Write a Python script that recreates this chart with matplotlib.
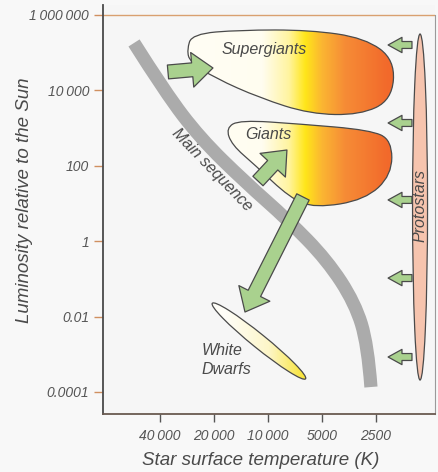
import matplotlib
matplotlib.use("Agg")
import matplotlib.pyplot as plt
import matplotlib.transforms as mtransforms
from matplotlib.path import Path
from matplotlib.patches import PathPatch, Ellipse
from matplotlib.colors import LinearSegmentedColormap
import numpy as np

plt.rcParams['font.family'] = ['Liberation Sans', 'DejaVu Sans']

# axis ranges (temperature in K, luminosity in suns)
t_range = (83100, 1172)
l_range = (2.6e-5, 1.84e6)

t_ticks = [40000, 20000, 10000, 5000, 2500]
t_labels = ['40\u2009000', '20\u2009000', '10\u2009000', '5000', '2500']
l_ticks = [1e6, 1e4, 1e2, 1, 1e-2, 1e-4]
l_labels = ['1\u2009000\u2009000', '10\u2009000', '100', '1', '0.01', '0.0001']

# main sequence band (centre line)
ms_t = [55800, 37500, 23930, 13430, 7736, 4690, 3273, 2775, 2667]
ms_l = [1.81e5, 9060, 546, 37.1, 3.64, 0.316, 0.0229, 1.76e-3, 1.35e-4]

# supergiant and giant regions (outline control points)
sg_t = [28290, 26530, 14330, 5830, 2880, 1960, 2040, 3070, 5830, 11090, 19740, 27220]
sg_l = [1.18e5, 3.13e5, 4.0e5, 4.0e5, 2.45e5, 6.4e4, 5560, 2220, 2360, 6290, 2.13e4, 5.66e4]
gi_t = [17150, 14330, 6630, 2700, 2040, 2040, 2880, 5470, 7540, 11820, 15890]
gi_l = [1005, 1637, 1282, 889, 483, 56.9, 12.4, 7.59, 14.0, 105, 356]

# white dwarfs and protostars (centre, size in px)
wd_center = (11230, 2.24e-3)
wd_size = (120, 14, -39)
ps_center = (1420, 8.05)
ps_size = (15, 346)

# evolution arrows: (tail T, tail L, tip T, tip L)
big_arrows = [
    (36090, 3.08e4, 20260, 3.93e4),
    (11370, 39.4, 7840, 262),
    (6380, 14.9, 13430, 0.0132),
]
proto_arrow_l = [1.6e5, 1365, 12.4, 0.105, 8.45e-4]
proto_arrow_t = (1575, 2140)

labels = [
    ('Supergiants', 10520, 1.18e5, 0),
    ('Giants', 10000, 655, 0),
    ('Main sequence', 20500, 77.3, -46),
    ('Protostars', 1420, 9.1, 90),
]

arrow_green = '#a9d18e'
edge_dark = '#4a4a4a'
text_col = '#4a4a4a'


def gmid(p, q):
    return (np.sqrt(p[0] * q[0]), np.sqrt(p[1] * q[1]))


def smooth_closed(ts, ls):
    pts = list(zip(ts, ls))
    n = len(pts)
    verts = [gmid(pts[-1], pts[0])]
    codes = [Path.MOVETO]
    for i in range(n):
        verts += [pts[i], gmid(pts[i], pts[(i + 1) % n])]
        codes += [Path.CURVE3, Path.CURVE3]
    return Path(verts, codes)


def smooth_open(ts, ls):
    pts = list(zip(ts, ls))
    verts = [pts[0]]
    codes = [Path.MOVETO]
    for i in range(1, len(pts) - 1):
        end = pts[-1] if i == len(pts) - 2 else gmid(pts[i], pts[i + 1])
        verts += [pts[i], end]
        codes += [Path.CURVE3, Path.CURVE3]
    return Path(verts, codes)


def gradient_fill(ax, clip, stops):
    cmap = LinearSegmentedColormap.from_list('g', stops)
    im = ax.imshow(np.linspace(0, 1, 512)[None, :], cmap=cmap, extent=(0, 1, 0, 1),
                   transform=ax.transAxes, aspect='auto', interpolation='bilinear', zorder=2)
    im.set_clip_path(clip)


fig = plt.figure(figsize=(4.38, 4.72), dpi=100, facecolor='#f8f8f8')
ax = fig.add_axes([103 / 438, 58 / 472, 332 / 438, 409 / 472])
ax.set_facecolor('#f6f6f6')
ax.set_xscale('log')
ax.set_yscale('log')
ax.set_xlim(*t_range)
ax.set_ylim(*l_range)
ax.set_autoscale_on(False)

# main sequence
ax.add_patch(PathPatch(smooth_open(ms_t, ms_l), fill=False, ec='#ababab', lw=9.5,
                       capstyle='butt', joinstyle='round', zorder=1))

# supergiants / giants
fire = [(0, '#fffffa'), (0.48, '#fffdf0'), (0.56, '#fff4a0'), (0.61, '#ffe619'),
        (0.66, '#fbb632'), (0.73, '#f68c36'), (0.86, '#f2692b'), (1, '#f2692b')]
for ts, ls in [(sg_t, sg_l), (gi_t, gi_l)]:
    blob = PathPatch(smooth_closed(ts, ls), fc='none', ec=edge_dark, lw=0.9, zorder=3)
    ax.add_patch(blob)
    gradient_fill(ax, blob, fire)

# white dwarfs
wd = Ellipse((0, 0), wd_size[0], wd_size[1], angle=wd_size[2], fc='none', ec=edge_dark, lw=0.9, zorder=3,
             transform=mtransforms.Affine2D() + mtransforms.ScaledTranslation(*wd_center, ax.transData))
ax.add_patch(wd)
gradient_fill(ax, wd, [(0, '#ffffff'), (0.37, '#fffef8'), (0.5, '#fdf6c8'), (0.6, '#f9e540'), (1, '#f9e540')])

# protostars
ax.add_patch(Ellipse((0, 0), ps_size[0], ps_size[1], fc='#f6c4ae', ec=edge_dark, lw=0.9, zorder=3,
                     transform=mtransforms.Affine2D() + mtransforms.ScaledTranslation(*ps_center, ax.transData)))

for t0, l0, t1, l1 in big_arrows:
    ax.annotate('', xy=(t1, l1), xytext=(t0, l0), zorder=4,
                arrowprops=dict(arrowstyle='simple,head_length=1.5,head_width=2.5,tail_width=1.0',
                                mutation_scale=10, fc=arrow_green, ec=edge_dark, lw=0.9,
                                shrinkA=0, shrinkB=0))
for lv in proto_arrow_l:
    ax.annotate('', xy=(proto_arrow_t[1], lv), xytext=(proto_arrow_t[0], lv), zorder=2,
                arrowprops=dict(arrowstyle='simple,head_length=1.0,head_width=1.1,tail_width=0.5',
                                mutation_scale=10, fc=arrow_green, ec=edge_dark, lw=0.9,
                                shrinkA=0, shrinkB=0))

for s, t, l, rot in labels:
    ax.text(t, l, s, rotation=rot, ha='center', va='center', fontsize=11.5, style='italic',
            color=text_col, zorder=5, rotation_mode='anchor')
ax.text(23330, 7.0e-4, 'White\nDwarfs', ha='left', va='center', fontsize=11.5, style='italic',
        color=text_col, linespacing=1.3, zorder=5)

# axes furniture
ax.axhline(1e6, color='#d9a070', lw=1.0, zorder=0.5)
ax.spines['top'].set_visible(False)
ax.spines['right'].set_bounds(l_range[0], 1e6)
ax.spines['right'].set_color('#9a9a9a')
ax.spines['right'].set_linewidth(0.8)
ax.spines['left'].set_color('#4a4a4a')
ax.spines['left'].set_linewidth(1.3)
ax.spines['bottom'].set_color('#6a5a50')
ax.spines['bottom'].set_linewidth(1.3)

ax.set_xticks(t_ticks)
ax.set_xticklabels(t_labels)
ax.set_yticks(l_ticks)
ax.set_yticklabels(l_labels)
ax.minorticks_off()
ax.tick_params(axis='y', length=6.5, width=1.0, color='#d09060', pad=3.5, labelsize=10, labelcolor='#555555')
ax.tick_params(axis='x', length=6, width=1.0, color='#555555', pad=5, labelsize=10, labelcolor='#555555')
for lab in ax.get_xticklabels() + ax.get_yticklabels():
    lab.set_style('italic')

ax.set_xlabel('Star surface temperature (K)', fontsize=13.5, style='italic', color='#4a4a4a')
ax.set_ylabel('Luminosity relative to the Sun', fontsize=13.5, style='italic', color='#4a4a4a')
ax.xaxis.set_label_coords(0.476, -0.1125)
ax.xaxis.label.set_va('center')
ax.yaxis.set_label_coords(-0.235, 0.523)
ax.yaxis.label.set_va('center')

fig.savefig('out.png', dpi=100, facecolor=fig.get_facecolor())
